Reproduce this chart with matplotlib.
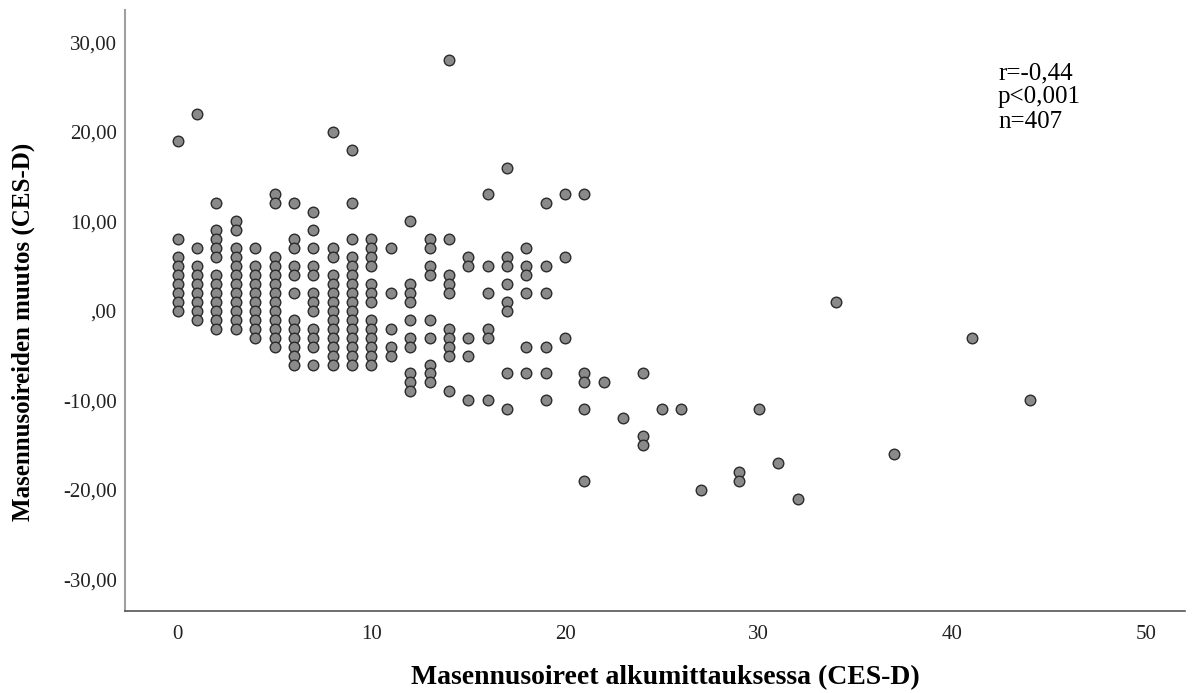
import matplotlib
matplotlib.use("Agg")
import matplotlib.pyplot as plt

# alkumittaus (CES-D) -> muutokset kyseisellä arvolla (päällekkäiset pisteet yhdistetty)
cesd_start = [0, 1, 2, 3, 4, 5, 6, 7, 8, 9, 10, 11, 12, 13, 14, 15, 16, 17, 18, 19,
              20, 21, 22, 23, 24, 25, 26, 27, 29, 30, 31, 32, 34, 37, 41, 44]
cesd_change = [
    [19, 8, 6, 5, 4, 3, 2, 1, 0],
    [22, 7, 5, 4, 3, 2, 1, 0, -1],
    [12, 9, 8, 7, 6, 4, 3, 2, 1, 0, -1, -2],
    [10, 9, 7, 6, 5, 4, 3, 2, 1, 0, -1, -2],
    [7, 5, 4, 3, 2, 1, 0, -1, -2, -3],
    [13, 12, 6, 5, 4, 3, 2, 1, 0, -1, -2, -3, -4],
    [12, 8, 7, 5, 4, 2, -1, -2, -3, -4, -5, -6],
    [11, 9, 7, 5, 4, 2, 1, 0, -2, -3, -4, -6],
    [20, 7, 6, 4, 3, 2, 1, 0, -1, -2, -3, -4, -5, -6],
    [18, 12, 8, 6, 5, 4, 3, 2, 1, 0, -1, -2, -3, -4, -5, -6],
    [8, 7, 6, 5, 3, 2, 1, -1, -2, -3, -4, -5, -6],
    [7, 2, -2, -4, -5],
    [10, 3, 2, 1, -1, -3, -4, -7, -8, -9],
    [8, 7, 5, 4, -1, -3, -6, -7, -8],
    [28, 8, 4, 3, 2, -2, -3, -4, -5, -9],
    [6, 5, -3, -5, -10],
    [13, 5, 2, -2, -3, -10],
    [16, 6, 5, 3, 1, 0, -7, -11],
    [7, 5, 4, 2, -4, -7],
    [12, 5, 2, -4, -7, -10],
    [13, 6, -3],
    [13, -7, -8, -11, -19],
    [-8],
    [-12],
    [-7, -14, -15],
    [-11],
    [-11],
    [-20],
    [-18, -19],
    [-11],
    [-17],
    [-21],
    [1],
    [-16],
    [-3],
    [-10],
]
stats_lines = ["r=-0,44", "p<0,001", "n=407"]
y_ticks = [-30, -20, -10, 0, 10, 20, 30]
x_ticks = [0, 10, 20, 30, 40, 50]

SERIF = ["Liberation Serif", "DejaVu Serif"]


def ylab(v):
    s = f"{v:.2f}".replace(".", ",")
    return s[1:] if v == 0 else s


xs, ys = [], []
for x, col in zip(cesd_start, cesd_change):
    for y in col:
        xs.append(x); ys.append(y)

fig = plt.figure(figsize=(11.96, 6.93), dpi=100)
ax = fig.add_axes([0.1045, 0.1187, 0.8863, 0.8669])
ax.scatter(xs, ys, s=58, c="#8a8a8a", edgecolors="#2b2b2b", linewidths=1.0, zorder=3)

ax.set_xlim(-2.72, 52.0)
ax.set_ylim(-33.5, 33.6)
ax.set_xticks(x_ticks)
ax.set_xticklabels([str(v) for v in x_ticks], family=SERIF, fontsize=15, color="#222222")
ax.set_yticks(y_ticks)
ax.set_yticklabels([ylab(v) for v in y_ticks], family=SERIF, fontsize=15, color="#222222")
ax.tick_params(axis="x", length=0, pad=10)
ax.tick_params(axis="y", length=0, pad=6)
for s in ["top", "right"]:
    ax.spines[s].set_visible(False)
ax.spines["left"].set_color("#a0a0a0"); ax.spines["left"].set_linewidth(1.5)
ax.spines["bottom"].set_color("#555555"); ax.spines["bottom"].set_linewidth(1.2)

fig.text(665 / 1196, 1 - 678 / 693, "Masennusoireet alkumittauksessa (CES-D)",
         ha="center", va="center", family=SERIF, fontsize=20, fontweight="bold")
fig.text(23 / 1196, 1 - 332 / 693, "Masennusoireiden muutos (CES-D)", rotation=90,
         ha="center", va="center", family=SERIF, fontsize=18, fontweight="bold")

for i, t in enumerate(stats_lines):
    fig.text(998 / 1196, 1 - (73 + 24.5 * i) / 693, t, ha="left", va="center",
             family=SERIF, fontsize=18)

fig.savefig("out.png", dpi=100)
